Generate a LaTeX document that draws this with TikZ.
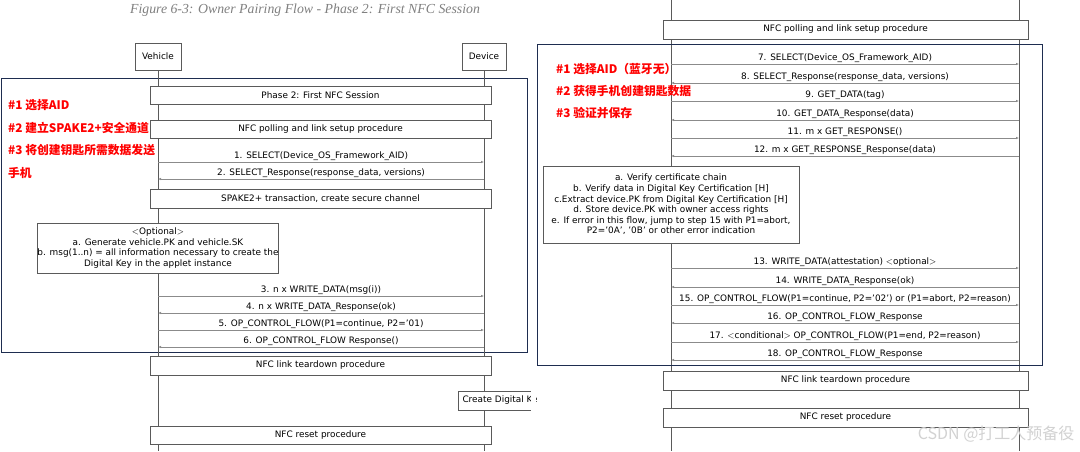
\documentclass[tikz,border=0pt]{standalone}
\usepackage{fontspec}
\setmainfont{DejaVu Sans}
\newfontfamily\cjk{Noto Sans CJK SC}
\newfontfamily\capfont{Liberation Serif}
\usetikzlibrary{arrows.meta}
\definecolor{linegray}{RGB}{90,90,90}
\definecolor{framenavy}{RGB}{30,45,80}
\tikzset{
  box/.style={draw=linegray, fill=white, font=\fontsize{8.9}{10.6}\selectfont, inner sep=0pt},
  msg/.style={draw=linegray!70, -{Latex[length=3pt,width=2.4pt]}, line width=0.5pt},
  lbl/.style={font=\fontsize{8.9}{10.6}\selectfont, anchor=base},
  note/.style={font=\cjk\bfseries\fontsize{11.8}{13}\selectfont, text=red, anchor=base west, inner sep=0pt},
  frame/.style={draw=framenavy, line width=0.7pt},
}
\begin{document}
\begin{tikzpicture}[x=1pt,y=-1pt]
\useasboundingbox (0,0) rectangle (1080,451);
\fill[white] (0,0) rectangle (1080,451);

% left panel
\node[font=\capfont\itshape\fontsize{13.8}{15}\selectfont, text=gray] (title) at (305,10) {Figure 6-3: Owner Pairing Flow - Phase 2: First NFC Session};
\draw[frame] (1,78) rectangle (527,352);
\node[box, minimum width=46, minimum height=27] (veh) at (158,56.5) {Vehicle};
\node[box, minimum width=44, minimum height=27] (dev) at (484,56.5) {Device};
\coordinate (vehend) at (158,451);
\coordinate (devend) at (484,451);
\draw[linegray] (veh) -- (vehend);
\draw[linegray] (dev) -- (devend);

\foreach \name/\y/\txt in {ph/95/{Phase 2: First NFC Session}, poll/129/{NFC polling and link setup procedure},
    spake/198.5/{SPAKE2+ transaction, create secure channel}, tear/365.5/{NFC link teardown procedure},
    reset/435/{NFC reset procedure}}
  \node[box, minimum width=341, minimum height=18.5] (\name) at (320.5,\y) {\txt};

\node[box, align=center, minimum width=238, minimum height=50] (opt) at (158,248) {$<$Optional$>$\\a. Generate vehicle.PK and vehicle.SK\\b. msg(1..n) = all information necessary to create the\\Digital Key in the applet instance};

% messages, vehicle side
\foreach \y/\dir/\txt in {162/1/{1. SELECT(Device\_OS\_Framework\_AID)}, 179/0/{2. SELECT\_Response(response\_data, versions)},
    296/1/{3. n x WRITE\_DATA(msg(i))}, 313/0/{4. n x WRITE\_DATA\_Response(ok)},
    330/1/{5. OP\_CONTROL\_FLOW(P1=continue, P2='01)}, 347/0/{6. OP\_CONTROL\_FLOW Response()}} {
  \ifnum\dir=1 \draw[msg] (veh.south |- 0,\y) -- (dev.south |- 0,\y);
  \else \draw[msg] (dev.south |- 0,\y) -- (veh.south |- 0,\y); \fi
  \node[lbl] at (321,\y-3.5) {\txt};
}

\draw[linegray, fill=white] (531,391) -- (458,391) -- (458,410) -- (531,410);
\node[lbl, anchor=west] (create) at (459,400.5) {Create Digital Ke};
\fill[white] (531,380) rectangle (536,415);

\node[note] (n1) at (8,109) {\#1 选择AID};
\node[note] (n2) at (8,132) {\#2 建立SPAKE2+安全通道};
\node[note] (n3) at (8,154) {\#3 将创建钥匙所需数据发送};
\node[note] (n4) at (8,177) {手机};

% right panel
\coordinate (rtopa) at (671,0);
\coordinate (rtopb) at (1019,0);
\coordinate (rbota) at (671,451);
\coordinate (rbotb) at (1019,451);
\draw[linegray] (rtopa) -- (rbota);
\draw[linegray] (rtopb) -- (rbotb);
\draw[frame] (537,44) rectangle (1042,365);
\foreach \name/\y/\txt in {rpoll/29.5/{NFC polling and link setup procedure}, rtear/380.5/{NFC link teardown procedure},
    rreset/417.5/{NFC reset procedure}}
  \node[box, minimum width=365, minimum height=19] (\name) at (845.5,\y) {\txt};

\node[box, align=center, minimum width=256, minimum height=77] (verify) at (671,204.5) {a. Verify certificate chain\\b. Verify data in Digital Key Certification [H]\\c.Extract device.PK from Digital Key Certification [H]\\d. Store device.PK with owner access rights\\e. If error in this flow, jump to step 15 with P1=abort,\\P2='0A', '0B' or other error indication};

\foreach \y/\dir/\txt in {64/1/{7. SELECT(Device\_OS\_Framework\_AID)}, 83/0/{8. SELECT\_Response(response\_data, versions)},
    101/1/{9. GET\_DATA(tag)}, 120/0/{10. GET\_DATA\_Response(data)}, 138/1/{11. m x GET\_RESPONSE()},
    156/0/{12. m x GET\_RESPONSE\_Response(data)}, 268/1/{13. WRITE\_DATA(attestation) $<$optional$>$},
    287/0/{14. WRITE\_DATA\_Response(ok)}, 305/1/{15. OP\_CONTROL\_FLOW(P1=continue, P2='02') or (P1=abort, P2=reason)},
    323/0/{16. OP\_CONTROL\_FLOW\_Response}, 342/1/{17. $<$conditional$>$ OP\_CONTROL\_FLOW(P1=end, P2=reason)},
    360/0/{18. OP\_CONTROL\_FLOW\_Response}} {
  \ifnum\dir=1 \draw[msg] (rtopa |- 0,\y) -- (rtopb |- 0,\y);
  \else \draw[msg] (rtopb |- 0,\y) -- (rtopa |- 0,\y); \fi
  \node[lbl] at (845,\y-3.5) {\txt};
}

\node[note] (r1) at (556,73) {\#1 选择AID（蓝牙无）};
\node[note] (r2) at (556,95) {\#2 获得手机创建钥匙数据};
\node[note] (r3) at (556,117) {\#3 验证并保存};

\node[font=\cjk\fontsize{16}{18}\selectfont, text=gray!35, anchor=east] (mark) at (1078,434) {CSDN @打工人预备役};
\end{tikzpicture}
\end{document}
